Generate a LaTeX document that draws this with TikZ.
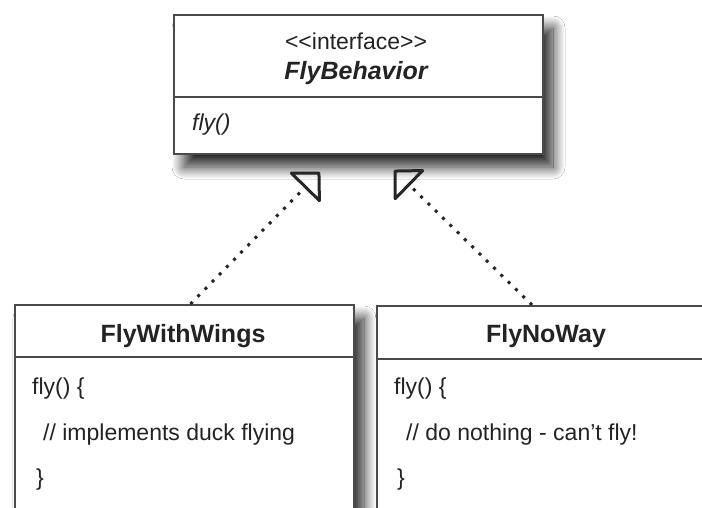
\documentclass[tikz,border=0pt]{standalone}
\usepackage{fontspec}
\setmainfont{Liberation Sans}
\usetikzlibrary{arrows.meta,shadows.blur}
\definecolor{linegray}{RGB}{75,75,75}
\definecolor{txt}{RGB}{35,35,35}
\begin{document}
\begin{tikzpicture}[x=1pt,y=-1pt,
  umlbox/.style={draw=linegray, line width=2pt, fill=white, rectangle, inner sep=0pt,
    anchor=north west,
    blur shadow={shadow xshift=10pt, shadow yshift=-13pt, shadow blur radius=12pt, shadow blur steps=20, shadow opacity=85}},
  divider/.style={draw=linegray, line width=2pt},
  body/.style={text=txt, inner sep=0pt, anchor=base west, font=\fontsize{23}{27}\selectfont},
  title/.style={text=txt, inner sep=0pt, anchor=base, font=\bfseries\fontsize{25}{30}\selectfont},
  realize/.style={draw=black!85, line width=3pt, dash pattern=on 3pt off 7.2pt,
    -{Triangle[open, length=23pt, width=46pt, line width=3pt, round]}}]
\clip (0,0) rectangle (702,508);
\fill[white] (0,0) rectangle (702,508);

% interface box
\node[umlbox, minimum width=369pt, minimum height=139pt] (fb) at (173,14) {};
\draw[divider] (fb.west |- 0,97) -- (fb.east |- 0,97);
\node[text=txt, inner sep=0pt, anchor=base, font=\fontsize{23}{27}\selectfont] (st) at (356,50) {<\kern0pt<interface>\kern0pt>};
\node[title, font=\bfseries\itshape\fontsize{25}{30}\selectfont] (fbname) at (356,80) {FlyBehavior};
\node[body, font=\itshape\fontsize{23}{27}\selectfont] (fbm) at (192,131) {fly()};

% FlyWithWings
\node[umlbox, minimum width=339pt, minimum height=240pt] (fww) at (14,304) {};
\draw[divider] (fww.west |- 0,357) -- (fww.east |- 0,357);
\node[title] (fwwname) at (183,342) {FlyWithWings};
\node[body] (fww1) at (32,394) {fly() \{};
\node[body] (fww2) at (43,440) {// implements duck flying};
\node[body] (fww3) at (36,485) {\}};

% FlyNoWay
\node[umlbox, minimum width=340pt, minimum height=240pt] (fnw) at (376,305) {};
\draw[divider] (fnw.west |- 0,359) -- (fnw.east |- 0,359);
\node[title] (fnwname) at (546,342) {FlyNoWay};
\node[body] (fnw1) at (394,394) {fly() \{};
\node[body] (fnw2) at (406,440) {// do nothing - can’t fly!};
\node[body] (fnw3) at (397,485) {\}};

% realization arrows
\coordinate (tipL) at (320,172);
\coordinate (tipR) at (394,170);
\draw[realize] ([xshift=6pt]fww.north) -- (tipL);
\draw[realize] ([xshift=-15pt]fnw.north) -- (tipR);
\end{tikzpicture}
\end{document}
